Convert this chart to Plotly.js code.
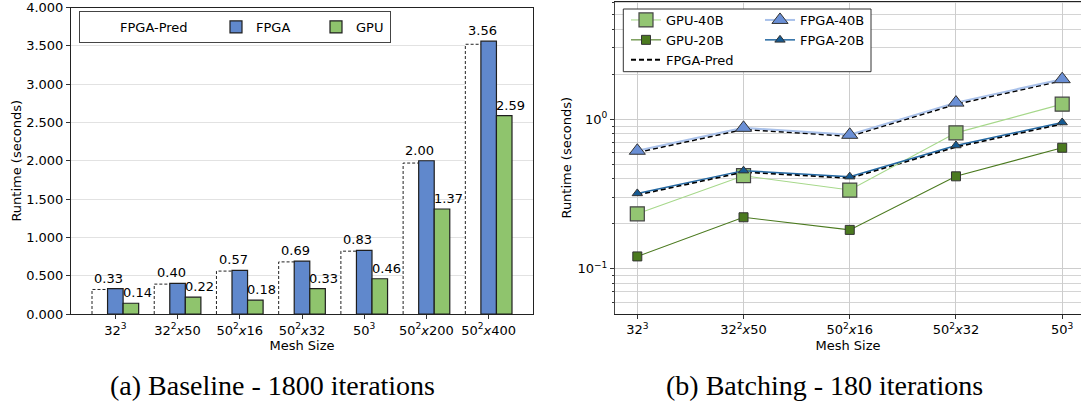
<!DOCTYPE html>
<html><head><meta charset="utf-8">
<script src="https://cdn.plot.ly/plotly-3.0.1.min.js"></script>
<style>html,body{margin:0;padding:0;background:#fff;} #chart{width:1081px;height:407px;}</style>
</head><body><div id="chart"></div>
<script>
// ---- (a) Baseline - 1800 iterations ----
const baselineLabels = ['32<sup>3</sup>', '32<sup>2</sup><i>x</i>50', '50<sup>2</sup><i>x</i>16', '50<sup>2</sup><i>x</i>32', '50<sup>3</sup>', '50<sup>2</sup><i>x</i>200', '50<sup>2</sup><i>x</i>400'];
const baselinePred = [0.32, 0.39, 0.56, 0.68, 0.82, 1.97, 3.52];
const baselineFPGA = [0.33, 0.40, 0.57, 0.69, 0.83, 2.00, 3.56];
const baselineGPU  = [0.14, 0.22, 0.18, 0.33, 0.46, 1.37, 2.59];

// ---- (b) Batching - 180 iterations ----
const batchLabels = ['32<sup>3</sup>', '32<sup>2</sup><i>x</i>50', '50<sup>2</sup><i>x</i>16', '50<sup>2</sup><i>x</i>32', '50<sup>3</sup>'];
const gpu40  = [0.233, 0.419, 0.336, 0.81, 1.26];
const gpu20  = [0.121, 0.221, 0.182, 0.415, 0.644];
const fpga40 = [0.615, 0.875, 0.786, 1.29, 1.85];
const fpga20 = [0.319, 0.453, 0.413, 0.667, 0.95];
const pred40 = [0.600, 0.855, 0.770, 1.26, 1.81];
const pred20 = [0.312, 0.443, 0.404, 0.652, 0.93];

const W = 1081, H = 407;
const FONT = 'DejaVu Sans';
const BW = 0.25;

const catsA = baselineLabels.map((_, i) => i);
const catsB = batchLabels.map((_, i) => i);

// dashed outline of the predicted bars (left + top edges; right edge is hidden by FPGA bar)
const predOX = [], predOY = [];
baselinePred.forEach((v, i) => {
  predOX.push(i - 1.5 * BW, i - 1.5 * BW, i - 0.5 * BW, null);
  predOY.push(0, v, v, null);
});

const barLine = {color: '#1e1e1e', width: 1.2};
const mkOutline = {color: '#333', width: 1};

const traces = [
  {type: 'bar', x: catsA, y: baselinePred, width: BW, offset: -1.5 * BW, name: 'FPGA-Pred',
   marker: {color: '#ffffff', line: {width: 0}}, xaxis: 'x', yaxis: 'y', legend: 'legend', legendwidth: 91},
  {type: 'scatter', mode: 'lines', x: predOX, y: predOY, showlegend: false,
   line: {color: '#222', width: 1, dash: '3px,2px'}, xaxis: 'x', yaxis: 'y'},
  {type: 'bar', x: catsA, y: baselineFPGA, width: BW, offset: -0.5 * BW, name: 'FPGA',
   marker: {color: '#6088cc', line: barLine}, xaxis: 'x', yaxis: 'y', legend: 'legend', legendwidth: 55},
  {type: 'bar', x: catsA, y: baselineGPU, width: BW, offset: 0.5 * BW, name: 'GPU',
   marker: {color: '#8fc46d', line: barLine}, xaxis: 'x', yaxis: 'y', legend: 'legend', legendwidth: 29},

  // right chart
  {type: 'scatter', mode: 'lines', x: catsB, y: pred40, name: 'FPGA-Pred', legend: 'legend2', legendrank: 3,
   line: {color: '#000', width: 1.8, dash: '5px,3px'}, xaxis: 'x2', yaxis: 'y2'},
  {type: 'scatter', mode: 'lines', x: catsB, y: pred20, name: 'FPGA-Pred', showlegend: false,
   line: {color: '#000', width: 1.8, dash: '5px,3px'}, xaxis: 'x2', yaxis: 'y2'},
  {type: 'scatter', mode: 'lines+markers', x: catsB, y: gpu40, name: 'GPU-40B', legend: 'legend2', legendrank: 1,
   line: {color: '#a6d88a', width: 1.1},
   marker: {symbol: 'square', size: 14, color: '#93c572', line: {color: '#444', width: 1.2}}, xaxis: 'x2', yaxis: 'y2'},
  {type: 'scatter', mode: 'lines+markers', x: catsB, y: gpu20, name: 'GPU-20B', legend: 'legend2', legendrank: 2,
   line: {color: '#4b7a1f', width: 1.1},
   marker: {symbol: 'square', size: 9, color: '#4b7a1f', line: mkOutline}, xaxis: 'x2', yaxis: 'y2'},
  {type: 'scatter', mode: 'lines+markers', x: catsB, y: fpga40, name: 'FPGA-40B', legend: 'legend3', legendrank: 1,
   line: {color: '#a9c1ea', width: 2},
   marker: {symbol: 'triangle-up', size: 14, color: '#6a8fd5', line: mkOutline}, xaxis: 'x2', yaxis: 'y2'},
  {type: 'scatter', mode: 'lines+markers', x: catsB, y: fpga20, name: 'FPGA-20B', legend: 'legend3', legendrank: 2,
   line: {color: '#2468a2', width: 1.5},
   marker: {symbol: 'triangle-up', size: 9, color: '#165a92', line: mkOutline}, xaxis: 'x2', yaxis: 'y2'}
];

// value labels above the bars
const annotations = [];
baselineFPGA.forEach((v, i) => annotations.push({
  xref: 'x', yref: 'y', x: i, y: v, text: v.toFixed(2), showarrow: false,
  yanchor: 'bottom', xanchor: 'center', xshift: -6.5, yshift: 1, font: {family: FONT, size: 13, color: '#000'}
}));
baselineGPU.forEach((v, i) => annotations.push({
  xref: 'x', yref: 'y', x: i + BW, y: v, text: v.toFixed(2), showarrow: false,
  yanchor: 'bottom', xanchor: 'center', xshift: 6.3, yshift: 1, font: {family: FONT, size: 13, color: '#000'}
}));
// sub-figure captions
annotations.push({xref: 'paper', yref: 'paper', x: 272 / W, y: (H - 385) / H, xanchor: 'center', yanchor: 'middle',
  text: '(a) Baseline - 1800 iterations', showarrow: false, font: {family: 'Liberation Serif', size: 28, color: '#000'}});
annotations.push({xref: 'paper', yref: 'paper', x: 824 / W, y: (H - 385) / H, xanchor: 'center', yanchor: 'middle',
  text: '(b) Batching - 180 iterations', showarrow: false, font: {family: 'Liberation Serif', size: 28, color: '#000'}});

const tickCommon = {ticks: 'outside', ticklen: 4, tickwidth: 1, tickcolor: '#333',
  tickfont: {family: FONT, size: 13, color: '#000'}, showline: true, linecolor: '#222', linewidth: 1, zeroline: false};

const layout = {
  width: W, height: H,
  margin: {l: 0, r: 0, t: 0, b: 0},
  paper_bgcolor: '#fff', plot_bgcolor: '#fff',
  font: {family: FONT, size: 13, color: '#000'},
  barmode: 'overlay',
  xaxis: Object.assign({}, tickCommon, {
    domain: [71 / W, 533 / W], anchor: 'y', range: [-0.7125, 6.7125],
    tickmode: 'array', tickvals: catsA, ticktext: baselineLabels, showgrid: false, mirror: true,
    title: {text: 'Mesh Size', font: {family: FONT, size: 13}, standoff: 4}
  }),
  yaxis: Object.assign({}, tickCommon, {
    domain: [(H - 314) / H, (H - 7.5) / H], anchor: 'x', range: [0, 4],
    dtick: 0.5, tick0: 0, tickformat: '.3f', showgrid: true, gridcolor: '#e2e2e2', gridwidth: 1, mirror: true,
    title: {text: 'Runtime (seconds)', font: {family: FONT, size: 13}, standoff: 1}
  }),
  xaxis2: Object.assign({}, tickCommon, {
    domain: [615 / W, 1], anchor: 'y2', range: [-0.21, 4.177],
    tickmode: 'array', tickvals: catsB, ticktext: batchLabels, showgrid: true, gridcolor: '#cdcdcd', mirror: true,
    title: {text: 'Mesh Size', font: {family: FONT, size: 13}, standoff: 4}
  }),
  yaxis2: Object.assign({}, tickCommon, {
    domain: [(H - 313.7) / H, (H - 1.7) / H], anchor: 'x2', type: 'log', range: [-1.3, 0.785],
    tickmode: 'array', tickvals: [0.1, 1], ticktext: ['10<sup>\u22121</sup>', '10<sup>0</sup>'],
    showgrid: true, gridcolor: '#cdcdcd', linecolor: '#444',
    minor: {dtick: 'D1', showgrid: true, gridcolor: '#d4d4d4', ticks: 'outside', ticklen: 2.5, tickcolor: '#333'},
    title: {text: 'Runtime (seconds)', font: {family: FONT, size: 13}, standoff: 2}
  }),
  legend: {x: 79 / W, y: (H - 11) / H, xanchor: 'left', yanchor: 'top', orientation: 'h',
    bgcolor: '#fff', bordercolor: '#444', borderwidth: 1, font: {family: FONT, size: 13}},
  legend2: {x: 626 / W, y: (H - 5) / H, xanchor: 'left', yanchor: 'top', orientation: 'v',
    bgcolor: 'rgba(0,0,0,0)', borderwidth: 0, font: {family: FONT, size: 13}, tracegroupgap: 0},
  legend3: {x: 760 / W, y: (H - 5) / H, xanchor: 'left', yanchor: 'top', orientation: 'v',
    bgcolor: 'rgba(0,0,0,0)', borderwidth: 0, font: {family: FONT, size: 13}, tracegroupgap: 0},
  shapes: [{type: 'rect', xref: 'paper', yref: 'paper', layer: 'above',
    x0: 623.3 / W, x1: 871 / W, y0: (H - 71.7) / H, y1: (H - 9) / H,
    fillcolor: '#fff', line: {color: '#333', width: 1}}],
  annotations: annotations,
  showlegend: true
};

Plotly.newPlot('chart', traces, layout, {staticPlot: true, displayModeBar: false});
</script></body></html>
